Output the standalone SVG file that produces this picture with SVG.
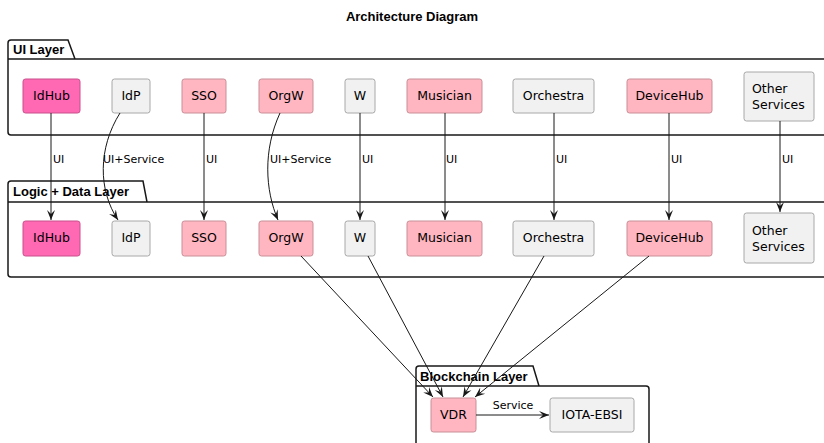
<svg xmlns="http://www.w3.org/2000/svg" width="824" height="443" viewBox="0 0 824 443">
<style>
.pkg{fill:none;stroke:#181818;stroke-width:1.5}
.pl{font-family:"Liberation Sans",Arial,sans-serif;font-weight:bold;font-size:13px;fill:#000}
.n{stroke-width:1}
.hot{fill:#FF69B4;stroke:#c8508c}
.pink{fill:#FFB6C1;stroke:#c88f98}
.gray{fill:#F1F1F1;stroke:#a8a8a8}
.t{font-family:"DejaVu Sans",Verdana,sans-serif;font-size:12.5px;fill:#000;text-anchor:middle}
.e{fill:none;stroke:#181818;stroke-width:1}
.el{font-family:"DejaVu Sans",Verdana,sans-serif;font-size:11px;fill:#000}
</style>
<defs>
<marker id="ah" viewBox="0 0 10 10" refX="10" refY="5" markerWidth="10" markerHeight="10" markerUnits="userSpaceOnUse" orient="auto">
<path d="M0,1 L10,5 L0,9 L4,5 Z" fill="#181818"/>
</marker>
</defs>
<rect width="824" height="443" fill="#fff"/>
<text x="412" y="21" text-anchor="middle" style="font-family:'Liberation Sans',Arial,sans-serif;font-weight:bold;font-size:13px">Architecture Diagram</text>

<g id="pkg-ui">
<path class="pkg" d="M8,59 L8,43 Q8,40 11,40 L68,40 L75,59 M8,59 L830,59 M8,59 L8,132 Q8,135 11,135 L830,135"/>
<text class="pl" x="13" y="54">UI Layer</text>
</g>
<g id="pkg-logic">
<path class="pkg" d="M8,202 L8,184 Q8,181 11,181 L143,181 L147,202 M8,202 L830,202 M8,202 L8,274 Q8,277 11,277 L830,277"/>
<text class="pl" x="13" y="196">Logic + Data Layer</text>
</g>
<g id="pkg-bc">
<path class="pkg" d="M416,386 L416,369 Q416,366 419,366 L533,366 L539,386 M416,386 L646,386 Q649,386 649,389 L649,450 M416,386 L416,450"/>
<text class="pl" x="420" y="381">Blockchain Layer</text>
</g>

<g id="ui-idhub"><rect class="n hot" x="23" y="79" width="57" height="34" rx="2.5"/><text class="t" x="51.5" y="100">IdHub</text></g>
<g id="ui-idp"><rect class="n gray" x="112" y="79" width="38" height="34" rx="2.5"/><text class="t" x="131" y="100">IdP</text></g>
<g id="ui-sso"><rect class="n pink" x="182" y="79" width="44" height="34" rx="2.5"/><text class="t" x="204" y="100">SSO</text></g>
<g id="ui-orgw"><rect class="n pink" x="259" y="79" width="54" height="34" rx="2.5"/><text class="t" x="286" y="100">OrgW</text></g>
<g id="ui-w"><rect class="n gray" x="345" y="79" width="30" height="34" rx="2.5"/><text class="t" x="360" y="100">W</text></g>
<g id="ui-musician"><rect class="n pink" x="407" y="79" width="75" height="34" rx="2.5"/><text class="t" x="444.5" y="100">Musician</text></g>
<g id="ui-orchestra"><rect class="n gray" x="513" y="79" width="81" height="34" rx="2.5"/><text class="t" x="553.5" y="100">Orchestra</text></g>
<g id="ui-devicehub"><rect class="n pink" x="627" y="79" width="85" height="34" rx="2.5"/><text class="t" x="669.5" y="100">DeviceHub</text></g>
<g id="ui-other"><rect class="n gray" x="744" y="72" width="70" height="49" rx="2.5"/><text class="t" x="752" y="93" style="text-anchor:start">Other</text><text class="t" x="752" y="109" style="text-anchor:start">Services</text></g>

<g id="ld-idhub"><rect class="n hot" x="23" y="221" width="57" height="35" rx="2.5"/><text class="t" x="51.5" y="242">IdHub</text></g>
<g id="ld-idp"><rect class="n gray" x="112" y="221" width="38" height="35" rx="2.5"/><text class="t" x="131" y="242">IdP</text></g>
<g id="ld-sso"><rect class="n pink" x="182" y="221" width="44" height="35" rx="2.5"/><text class="t" x="204" y="242">SSO</text></g>
<g id="ld-orgw"><rect class="n pink" x="259" y="221" width="54" height="35" rx="2.5"/><text class="t" x="286" y="242">OrgW</text></g>
<g id="ld-w"><rect class="n gray" x="345" y="221" width="30" height="35" rx="2.5"/><text class="t" x="360" y="242">W</text></g>
<g id="ld-musician"><rect class="n pink" x="407" y="221" width="75" height="35" rx="2.5"/><text class="t" x="444.5" y="242">Musician</text></g>
<g id="ld-orchestra"><rect class="n gray" x="513" y="221" width="81" height="35" rx="2.5"/><text class="t" x="553.5" y="242">Orchestra</text></g>
<g id="ld-devicehub"><rect class="n pink" x="627" y="221" width="85" height="35" rx="2.5"/><text class="t" x="669.5" y="242">DeviceHub</text></g>
<g id="ld-other"><rect class="n gray" x="744" y="213" width="70" height="50" rx="2.5"/><text class="t" x="752" y="235" style="text-anchor:start">Other</text><text class="t" x="752" y="251" style="text-anchor:start">Services</text></g>

<g id="bc-vdr"><rect class="n pink" x="431" y="398" width="45" height="34" rx="2.5"/><text class="t" x="453.5" y="419">VDR</text></g>
<g id="bc-iota"><rect class="n gray" x="550" y="398" width="84" height="34" rx="2.5"/><text class="t" x="592" y="419">IOTA-EBSI</text></g>

<g id="connectors">
<path class="e" marker-end="url(#ah)" d="M51,113 L51,220"/>
<path class="e" marker-end="url(#ah)" d="M120,113 C98,148 98,190 118,220"/>
<path class="e" marker-end="url(#ah)" d="M204,113 L204,220"/>
<path class="e" marker-end="url(#ah)" d="M280,113 C263,150 265,190 278,220"/>
<path class="e" marker-end="url(#ah)" d="M360,113 L360,220"/>
<path class="e" marker-end="url(#ah)" d="M445,113 L445,220"/>
<path class="e" marker-end="url(#ah)" d="M554,113 L554,220"/>
<path class="e" marker-end="url(#ah)" d="M669,113 L669,220"/>
<path class="e" marker-end="url(#ah)" d="M780,121 L780,212"/>
<path class="e" marker-end="url(#ah)" d="M301,256 L433,397"/>
<path class="e" marker-end="url(#ah)" d="M368,256 L443,397"/>
<path class="e" marker-end="url(#ah)" d="M544,256 L463,397"/>
<path class="e" marker-end="url(#ah)" d="M649,256 L475,397"/>
<path class="e" marker-end="url(#ah)" d="M476,415 L549,415"/>
<text class="el" x="53" y="163">UI</text>
<text class="el" x="103" y="163">UI+Service</text>
<text class="el" x="206" y="163">UI</text>
<text class="el" x="270" y="163">UI+Service</text>
<text class="el" x="362" y="163">UI</text>
<text class="el" x="446" y="163">UI</text>
<text class="el" x="556" y="163">UI</text>
<text class="el" x="671" y="163">UI</text>
<text class="el" x="782" y="163">UI</text>
<text class="el" x="513" y="409" text-anchor="middle">Service</text>
</g>
</svg>
